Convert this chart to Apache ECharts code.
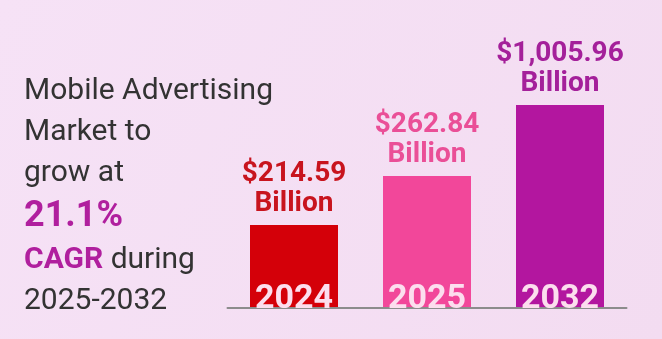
<!DOCTYPE html>
<html><head><meta charset="utf-8">
<script src="https://cdn.jsdelivr.net/npm/echarts@6/dist/echarts.min.js"></script>
<style>html,body{margin:0;padding:0;}#c{width:662px;height:339px;}</style>
</head><body><div id="c"></div>
<script>
const years = ['2024', '2025', '2032'];
const marketValues = [214.59, 262.84, 1005.96];       // USD billion (labels)
const barLevels = [33.2, 52.8, 81.2];                  // visual bar heights (% of plot height, not to scale)
const barColors = ['#d40009', '#f2479a', '#b3169f'];
const labelColors = ['#c8141e', '#ea4f97', '#a4209a'];
const headline = ['Mobile Advertising', 'Market to', 'grow at'];
const cagr = '21.1%';
const period = '2025-2032';

const fmt = v => '$' + v.toLocaleString('en-US', {minimumFractionDigits: 2, maximumFractionDigits: 2});

const chart = echarts.init(document.getElementById('c'));
chart.setOption({
  backgroundColor: {type: 'linear', x: 0, y: 0, x2: 1, y2: 1,
    colorStops: [{offset: 0, color: '#f6e2f6'}, {offset: 1, color: '#f3dcf1'}]},
  animation: false,
  title: {
    left: 24, top: 71, padding: 0,
    text: headline.map(t => '{n|' + t + '}').join('\n') + '\n{p|' + cagr + '}\n{b|CAGR}{n| during}\n{n|' + period + '}',
    textStyle: {
      fontWeight: 'normal', fontFamily: 'Roboto', fontSize: 30, color: '#333333',
      rich: {
        n: {fontFamily: 'Roboto', fontSize: 30, fontWeight: 'normal', color: '#333333', lineHeight: 41},
        p: {fontFamily: 'Roboto', fontSize: 36, fontWeight: 'bold', color: '#b01f9e', lineHeight: 46},
        b: {fontFamily: 'Roboto', fontSize: 30, fontWeight: 'bold', color: '#b01f9e', lineHeight: 41}
      }
    }
  },
  grid: {left: 227.5, right: 35.5, top: 58, bottom: 31},
  xAxis: {
    type: 'category', data: years, z: 10,
    axisLine: {lineStyle: {color: '#8c8c8c', width: 2}},
    axisTick: {show: false},
    axisLabel: {inside: true, margin: -8, color: '#fcdeee', fontFamily: 'Roboto', fontWeight: 'bold', fontSize: 34}
  },
  yAxis: {type: 'value', min: 0, max: 100, show: false, splitLine: {show: false}},
  series: [{
    type: 'bar', barWidth: 88,
    data: barLevels.map((v, i) => ({
      value: v,
      itemStyle: {color: barColors[i]},
      label: {
        show: true, position: 'top', distance: 6,
        formatter: '{a|' + fmt(marketValues[i]) + '}\n{a|Billion}',
        rich: {a: {fontFamily: 'Roboto', fontWeight: 'bold', fontSize: 28, lineHeight: 30, color: labelColors[i], align: 'center'}}
      }
    }))
  }]
});
</script></body></html>
